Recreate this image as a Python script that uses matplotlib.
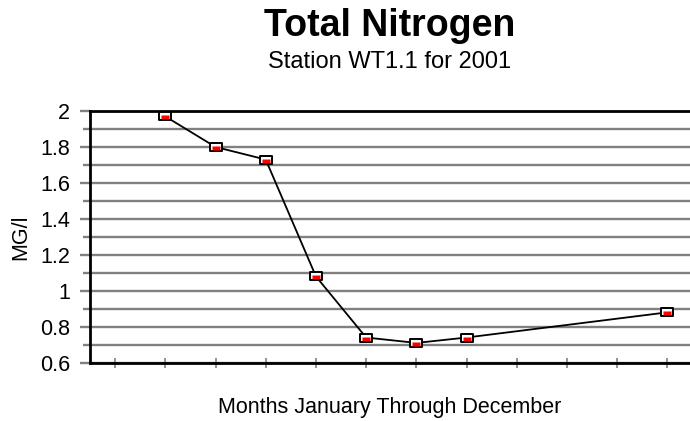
import numpy as np
import matplotlib.pyplot as plt
from matplotlib.path import Path

plt.rcParams['font.family'] = ['Liberation Sans', 'DejaVu Sans']

# sample months (1 = January) and total nitrogen, MG/l
months = [2, 3, 4, 5, 6, 7, 8, 12]
nitrogen = [1.97, 1.80, 1.73, 1.08, 0.74, 0.71, 0.74, 0.88]

yticks = [0.6, 0.8, 1.0, 1.2, 1.4, 1.6, 1.8, 2.0]
yticklabels = ['0.6', '0.8', '1', '1.2', '1.4', '1.6', '1.8', '2']

# little excel-style box marker: white box, red lower half
outer = Path([(-1, -0.7), (1, -0.7), (1, 0.7), (-1, 0.7), (-1, -0.7)],
             [Path.MOVETO, Path.LINETO, Path.LINETO, Path.LINETO, Path.CLOSEPOLY])
inner = Path([(1, 0), (-0.75, -0.5), (0.75, -0.5), (0.75, 0.15), (-0.75, 0.15), (-0.75, -0.5)],
             [Path.MOVETO, Path.MOVETO, Path.LINETO, Path.LINETO, Path.LINETO, Path.CLOSEPOLY])

fig = plt.figure(figsize=(6.9, 4.21), dpi=100)
ax = fig.add_axes([0.1304, 0.1385, 0.8696, 0.5978])

ax.plot(months, nitrogen, color='black', lw=1.3, zorder=3)
ax.plot(months, nitrogen, ls='none', marker=outer, ms=8, mfc='white', mec='black', mew=1.4, zorder=4)
ax.plot(months, nitrogen, ls='none', marker=inner, ms=8, mfc='red', mec='none', zorder=5)

ax.set_xlim(0.5, 12.45)
ax.set_ylim(0.6, 2.0)
ax.set_yticks(yticks)
ax.set_yticklabels(yticklabels, fontsize=15.5)
ax.set_yticks(np.arange(0.7, 2.0, 0.2), minor=True)
ax.set_xticks(range(1, 13))
ax.set_xticklabels([])

ax.grid(axis='y', which='both', color='#808080', lw=1.7)
ax.set_axisbelow(True)
ax.tick_params(axis='y', which='major', length=7.5, width=1.7, color='#808080', pad=7)
ax.tick_params(axis='y', which='minor', length=5, width=1.7, color='#808080')
ax.tick_params(axis='x', direction='inout', length=7, width=1.2, color='#808080')

for s in ['left', 'bottom', 'top']:
    ax.spines[s].set_linewidth(2)
    ax.spines[s].set_color('black')
ax.spines['right'].set_visible(False)

ax.set_ylabel('MG/l', fontsize=15.5, labelpad=6)
ax.set_xlabel('Months January Through December', fontsize=15.5, labelpad=18)

fig.text(0.565, 0.915, 'Total Nitrogen', fontsize=27, fontweight='bold', ha='center', va='baseline')
fig.text(0.565, 0.838, 'Station WT1.1 for 2001', fontsize=17, ha='center', va='baseline')

plt.savefig('out.png', dpi=100)
